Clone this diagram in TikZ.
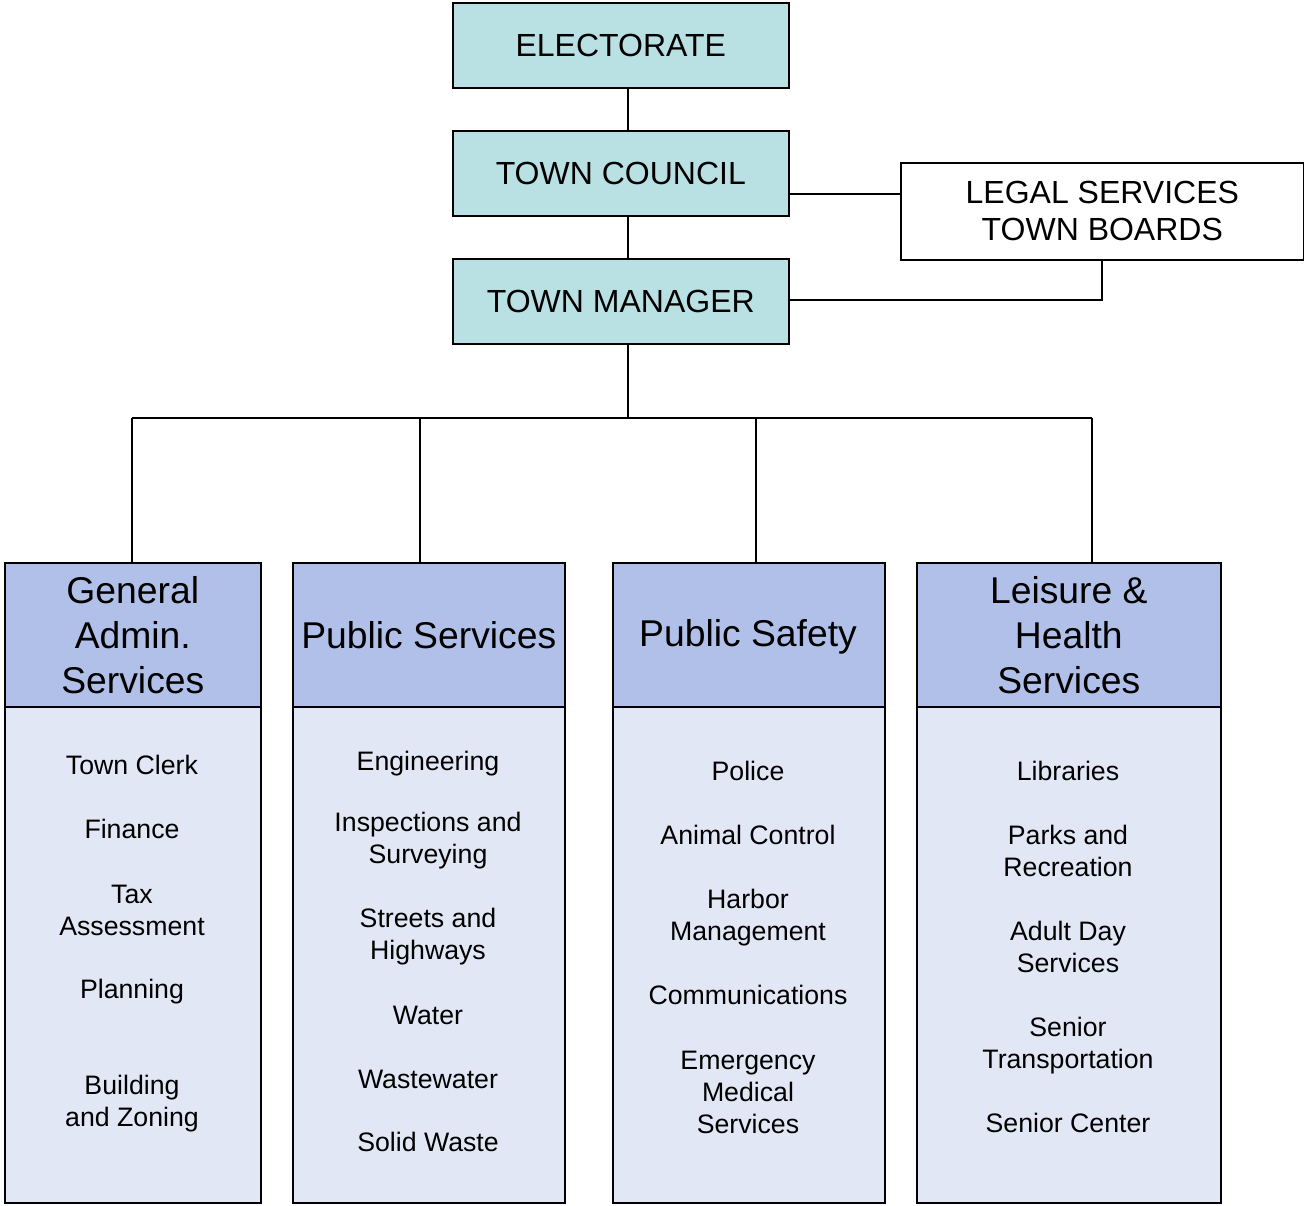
\documentclass[tikz,border=0pt]{standalone}
\usepackage{fontspec}
\setmainfont{Liberation Sans}
\definecolor{teal1}{HTML}{B9E0E3}
\definecolor{hdr}{HTML}{B0C0E8}
\definecolor{bdy}{HTML}{E1E7F5}
\begin{document}
\begin{tikzpicture}[x=1pt,y=-1pt,
  topbox/.style={draw=black, line width=1.6pt, fill=teal1, minimum width=336pt, minimum height=85pt, anchor=north west, inner sep=0pt, font=\fontsize{32}{37}\selectfont},
  legalbox/.style={draw=black, line width=1.6pt, fill=white, minimum width=403pt, minimum height=97pt, anchor=north west, inner sep=0pt, align=center, font=\fontsize{32}{37}\selectfont},
  hdrbox/.style={draw=black, line width=1.6pt, fill=hdr, minimum height=144pt, anchor=north west, inner sep=0pt, align=center, font=\fontsize{37.3}{45}\selectfont},
  bdybox/.style={draw=black, line width=1.6pt, fill=bdy, minimum height=496pt, anchor=north west, inner sep=0pt},
  item/.style={align=center, inner sep=0pt, font=\fontsize{26.7}{32}\selectfont},
  conn/.style={line width=2pt}
]
\useasboundingbox (0,0) rectangle (1304,1205);

% top boxes
\node[topbox] (elec) at (452,2) {ELECTORATE};
\node[topbox] (council) at (452,130) {TOWN COUNCIL};
\node[topbox] (manager) at (452,258) {TOWN MANAGER};
\node[legalbox] (legal) at (900,162) {LEGAL SERVICES\\TOWN BOARDS};

\coordinate (e1) at (628,87);
\coordinate (c1) at (628,130);
\coordinate (c2) at (628,215);
\coordinate (m1) at (628,258);
\coordinate (m2) at (628,343);
\draw[conn] (e1) -- (c1);
\draw[conn] (c2) -- (m1);
\draw[conn] (council.east |- 0,194) -- (legal.west |- 0,194);
\draw[line width=1.6pt] (legal.south -| 1102,0) |- (manager.east |- 0,300);

% column boxes
\node[hdrbox, minimum width=256pt] (h1) at (4,562) {General\\Admin.\\Services};
\node[hdrbox, minimum width=272pt] (h2) at (292,562) {Public Services};
\node[hdrbox, minimum width=272pt] (h3) at (612,562) {};
\node[font=\fontsize{37.3}{45}\selectfont, inner sep=0pt] (h3t) at (748,637) {Public Safety};
\node[hdrbox, minimum width=304pt] (h4) at (916,562) {Leisure \&\\Health\\Services};
\node[bdybox, minimum width=256pt] (b1) at (4,706) {};
\node[bdybox, minimum width=272pt] (b2) at (292,706) {};
\node[bdybox, minimum width=272pt] (b3) at (612,706) {};
\node[bdybox, minimum width=304pt] (b4) at (916,706) {};

% tree connectors
\coordinate (bar) at (628,418);
\coordinate (d1) at (132,418);
\coordinate (d2) at (420,418);
\coordinate (d3) at (756,418);
\coordinate (d4) at (1092,418);
\draw[conn] (m2) -- (bar);
\draw[conn] (d1) -- (d4);
\draw[conn] (d1) -- (d1 |- h1.north);
\draw[conn] (d2) -- (d2 |- h2.north);
\draw[conn] (d3) -- (d3 |- h3.north);
\draw[conn] (d4) -- (d4 |- h4.north);

% column 1 items
\node[item] (i11) at (132,765) {Town Clerk};
\node[item] (i12) at (132,829) {Finance};
\node[item] (i13) at (132,910) {Tax\\Assessment};
\node[item] (i14) at (132,992) {Planning};
\node[item] (i15) at (132,1104) {Building\\and Zoning};
% column 2 items
\node[item] (i21) at (428,764) {Engineering};
\node[item] (i22) at (428,841) {Inspections and\\Surveying};
\node[item] (i23) at (428,937) {Streets and\\Highways};
\node[item] (i24) at (428,1015) {Water};
\node[item] (i25) at (428,1079) {Wastewater};
\node[item] (i26) at (428,1142) {Solid Waste};
% column 3 items
\node[item] (i31) at (748,771) {Police};
\node[item] (i32) at (748,835) {Animal Control};
\node[item] (i33) at (748,918) {Harbor\\Management};
\node[item] (i34) at (748,995) {Communications};
\node[item] (i35) at (748,1092) {Emergency\\Medical\\Services};
% column 4 items
\node[item] (i41) at (1068,771) {Libraries};
\node[item] (i42) at (1068,851) {Parks and\\Recreation};
\node[item] (i43) at (1068,947) {Adult Day\\Services};
\node[item] (i44) at (1068,1046) {Senior\\Transportation};
\node[item] (i45) at (1068,1123) {Senior Center};
\end{tikzpicture}
\end{document}
